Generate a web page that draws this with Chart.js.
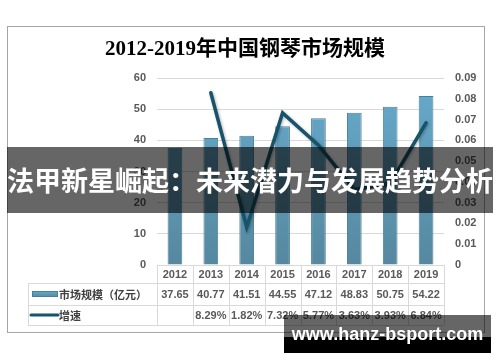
<!DOCTYPE html>
<html>
<head>
<meta charset="utf-8">
<script src="https://cdn.jsdelivr.net/npm/chart.js@4.4.1/dist/chart.umd.min.js"></script>
<style>
  html, body { margin: 0; padding: 0; background: #fff; }
  #wrap { position: relative; width: 500px; height: 362px; overflow: hidden; }
  #c { position: absolute; left: 0; top: 0; }
  #banner { position: absolute; left: 7px; top: 147px; width: 486px; height: 66px;
    background: rgba(0,0,0,0.6); color: #fff; font: bold 27px "Noto Sans CJK SC", sans-serif;
    line-height: 66px; text-align: center; white-space: nowrap; letter-spacing: 0px; }
  #wm1 { position: absolute; left: 284px; top: 315px; width: 207px; height: 22px; background: rgba(0,0,0,0.6); }
  #wm2 { position: absolute; left: 284px; top: 337px; width: 207px; height: 16px; background: #000; }
  #wmt { position: absolute; left: 284px; top: 315px; width: 207px; height: 38px; color: #fff;
    font: bold 18px "Liberation Sans", sans-serif; line-height: 38px; text-align: center; white-space: nowrap; }
</style>
</head>
<body>
<div id="wrap">
  <canvas id="c" width="500" height="362"></canvas>
  <div id="banner">法甲新星崛起：未来潜力与发展趋势分析</div>
  <div id="wm1"></div><div id="wm2"></div>
  <div id="wmt">www.hanz-bsport.com</div>
</div>
<script>
const chartTitle = "2012-2019年中国钢琴市场规模";
const categories = ["2012","2013","2014","2015","2016","2017","2018","2019"];
const marketSize = [37.65, 40.77, 41.51, 44.55, 47.12, 48.83, 50.75, 54.22];
const marketLabels = ["37.65","40.77","41.51","44.55","47.12","48.83","50.75","54.22"];
const growth = [null, 0.0829, 0.0182, 0.0732, 0.0577, 0.0363, 0.0393, 0.0684];
const growthLabels = ["", "8.29%","1.82%","7.32%","5.77%","3.63%","3.93%","6.84%"];
const seriesNames = ["市场规模（亿元）", "增速"];

const BAR_TOP = "#67abcd", BAR_BOT = "#56889f", LINE_COL = "#17536b";
const TXT = "#595959", GRID = "#d9d9d9";

function barGradient(ctx) {
  const ch = ctx.chart; const a = ch.chartArea;
  if (!a) return BAR_TOP;
  const g = ch.ctx.createLinearGradient(0, a.top, 0, a.bottom);
  g.addColorStop(0, BAR_TOP); g.addColorStop(1, BAR_BOT);
  return g;
}

const framePlugin = {
  id: 'frame',
  beforeDraw(chart) {
    const ctx = chart.ctx;
    ctx.save();
    ctx.fillStyle = '#fff'; ctx.fillRect(0, 0, chart.width, chart.height);
    ctx.strokeStyle = '#a6a6a6'; ctx.lineWidth = 1;
    ctx.strokeRect(7.5, 26.5, 477, 306);
    ctx.fillStyle = '#000';
    ctx.font = 'bold 21px "Liberation Serif", "Noto Sans CJK SC", serif';
    ctx.textAlign = 'center'; ctx.textBaseline = 'middle';
    ctx.fillText(chartTitle, 245, 50);
    ctx.restore();
  }
};

const shadowPlugin = {
  id: 'lineShadow',
  beforeDatasetDraw(chart, args) {
    if (chart.data.datasets[args.index].type === 'line') {
      const ctx = chart.ctx; ctx.save();
      ctx.shadowColor = 'rgba(0,0,0,0.3)'; ctx.shadowBlur = 3; ctx.shadowOffsetX = 1; ctx.shadowOffsetY = 1;
    }
  },
  afterDatasetDraw(chart, args) {
    if (chart.data.datasets[args.index].type === 'line') chart.ctx.restore();
  }
};

const tablePlugin = {
  id: 'dataTable',
  afterDraw(chart) {
    const ctx = chart.ctx; const xs = chart.scales.x; const a = chart.chartArea;
    const n = categories.length;
    const cw = (a.right - a.left) / n;
    const top = a.bottom, r1 = top + 18, r2 = r1 + 22, r3 = r2 + 20;
    const legL = 28;
    ctx.save();
    ctx.strokeStyle = GRID; ctx.lineWidth = 1;
    ctx.beginPath();
    ctx.moveTo(a.left, top + 0.5); ctx.lineTo(a.right, top + 0.5);
    [r1, r2, r3].forEach(y => { ctx.moveTo(legL, y + 0.5); ctx.lineTo(a.right, y + 0.5); });
    ctx.moveTo(legL + 0.5, r1); ctx.lineTo(legL + 0.5, r3);
    for (let i = 0; i <= n; i++) {
      const x = Math.round(xs.getPixelForValue(0) - cw / 2 + i * cw) + 0.5;
      ctx.moveTo(x, top); ctx.lineTo(x, r3);
    }
    ctx.stroke();
    ctx.fillStyle = TXT; ctx.font = 'bold 11px "Liberation Sans", sans-serif';
    ctx.textAlign = 'center'; ctx.textBaseline = 'middle';
    for (let i = 0; i < n; i++) {
      const x = xs.getPixelForValue(i);
      ctx.fillText(categories[i], x, (top + r1) / 2 + 1);
      ctx.fillText(marketLabels[i], x, (r1 + r2) / 2 + 1);
      if (growthLabels[i]) ctx.fillText(growthLabels[i], x, (r2 + r3) / 2 + 1);
    }
    const ym = (r1 + r2) / 2;
    const g = ctx.createLinearGradient(0, ym - 3, 0, ym + 3);
    g.addColorStop(0, BAR_TOP); g.addColorStop(1, BAR_BOT);
    ctx.fillStyle = g; ctx.fillRect(32, ym - 3, 26, 6);
    ctx.strokeStyle = '#4a7f99'; ctx.strokeRect(32.5, ym - 2.5, 25, 5);
    const yl = (r2 + r3) / 2;
    ctx.strokeStyle = LINE_COL; ctx.lineWidth = 3; ctx.lineCap = 'round';
    ctx.beginPath(); ctx.moveTo(31, yl); ctx.lineTo(58, yl); ctx.stroke();
    ctx.fillStyle = '#404040'; ctx.font = 'bold 11px "Noto Sans CJK SC", sans-serif';
    ctx.textAlign = 'left';
    ctx.fillText(seriesNames[0], 59, ym + 1);
    ctx.fillText(seriesNames[1], 59, yl + 1);
    ctx.restore();
  }
};

new Chart(document.getElementById('c'), {
  data: {
    labels: categories,
    datasets: [
      { type: 'line', label: seriesNames[1], data: growth, yAxisID: 'y2', order: 0,
        borderColor: LINE_COL, borderWidth: 3.5, pointRadius: 0, tension: 0,
        borderCapStyle: 'round', borderJoinStyle: 'miter', spanGaps: false },
      { type: 'bar', label: seriesNames[0], data: marketSize, yAxisID: 'y', order: 1,
        backgroundColor: barGradient, borderColor: '#4a7f99', borderWidth: 1,
        categoryPercentage: 1, barPercentage: 0.41 }
    ]
  },
  options: {
    responsive: false, animation: false,
    devicePixelRatio: 1,
    layout: { padding: { top: 78, bottom: 97, left: 0, right: 0 } },
    plugins: { legend: { display: false }, tooltip: { enabled: false }, title: { display: false } },
    scales: {
      x: { display: false },
      y: { position: 'left', min: 0, max: 60,
        ticks: { stepSize: 10, padding: 11, color: TXT, font: { family: 'Liberation Sans', size: 11, weight: 'bold' } },
        grid: { color: GRID, drawTicks: false }, border: { display: false },
        afterFit: s => { s.width = 157; } },
      y2: { position: 'right', min: 0, max: 0.09,
        ticks: { stepSize: 0.01, padding: 11, color: TXT, font: { family: 'Liberation Sans', size: 11, weight: 'bold' },
          callback: v => v === 0 ? '0' : v.toFixed(2) },
        grid: { display: false, drawTicks: false }, border: { display: false },
        afterFit: s => { s.width = 56; } }
    }
  },
  plugins: [framePlugin, shadowPlugin, tablePlugin]
});
</script>
</body>
</html>
